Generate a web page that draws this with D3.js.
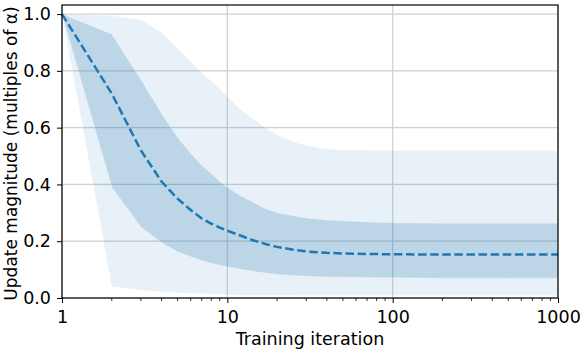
<!DOCTYPE html>
<html>
<head>
<meta charset="utf-8">
<script src="https://d3js.org/d3.v7.min.js"></script>
<style>
  body { margin: 0; background: #fff; }
  text { font-family: "DejaVu Sans", sans-serif; }
</style>
</head>
<body>
<svg id="chart"></svg>
<script>
// training iterations sampled
var iters = [1, 2, 3, 4, 5, 6, 7, 8, 9, 10, 12, 14, 17, 20, 25, 30, 40, 50, 70, 100, 200, 500, 1000];
// median update magnitude
var median = [1.0, 0.72, 0.52, 0.41, 0.35, 0.31, 0.28, 0.262, 0.248, 0.237, 0.22, 0.205, 0.19, 0.18, 0.17, 0.164, 0.159, 0.157, 0.155, 0.154, 0.153, 0.153, 0.153];
// inner band
var innerHi = [1.0, 0.93, 0.77, 0.65, 0.565, 0.51, 0.468, 0.438, 0.41, 0.39, 0.36, 0.34, 0.315, 0.30, 0.29, 0.282, 0.275, 0.272, 0.268, 0.265, 0.263, 0.263, 0.263];
var innerLo = [1.0, 0.39, 0.25, 0.195, 0.163, 0.145, 0.132, 0.122, 0.115, 0.11, 0.101, 0.095, 0.088, 0.083, 0.079, 0.077, 0.074, 0.073, 0.072, 0.071, 0.07, 0.07, 0.07];
// outer band
var outerHi = [1.0, 0.995, 0.98, 0.935, 0.88, 0.835, 0.795, 0.765, 0.735, 0.71, 0.665, 0.635, 0.60, 0.575, 0.55, 0.537, 0.525, 0.522, 0.52, 0.52, 0.52, 0.52, 0.52];
var outerLo = [1.0, 0.04, 0.028, 0.022, 0.018, 0.016, 0.015, 0.014, 0.012, 0.011, 0.010, 0.010, 0.009, 0.009, 0.009, 0.008, 0.008, 0.008, 0.008, 0.008, 0.008, 0.008, 0.008];
// ticks
var xTicks = [1, 10, 100, 1000];
var yTicks = [0.0, 0.2, 0.4, 0.6, 0.8, 1.0];

var width = 582, height = 350;
var mLeft = 62, mRight = 558, mTop = 5, mBottom = 298;
var fontSize = 17.5;
var blue = '#1f77b4';

var svg = d3.select('#chart')
  .attr('width', width)
  .attr('height', height);

var x = d3.scaleLog().domain([1, 1000]).range([mLeft, mRight]);
var y = d3.scaleLinear().domain([0, 1.032]).range([mBottom, mTop]);

// grid
svg.append('g').selectAll('line')
  .data(xTicks)
  .enter().append('line')
  .attr('x1', function(d){ return x(d); })
  .attr('x2', function(d){ return x(d); })
  .attr('y1', mTop)
  .attr('y2', mBottom)
  .attr('stroke', '#cfcfcf')
  .attr('stroke-width', 1.2);
svg.append('g').selectAll('line')
  .data(yTicks)
  .enter().append('line')
  .attr('x1', mLeft)
  .attr('x2', mRight)
  .attr('y1', function(d){ return y(d); })
  .attr('y2', function(d){ return y(d); })
  .attr('stroke', '#cfcfcf')
  .attr('stroke-width', 1.2);

function band(hi, lo) {
  return d3.area()
    .x(function(d, i){ return x(iters[i]); })
    .y0(function(d, i){ return y(lo[i]); })
    .y1(function(d, i){ return y(hi[i]); })(iters);
}

svg.append('path')
  .attr('d', band(outerHi, outerLo))
  .attr('fill', blue)
  .attr('fill-opacity', 0.1)
  .attr('stroke', '#fff')
  .attr('stroke-opacity', 0.5)
  .attr('stroke-width', 0.7);

svg.append('path')
  .attr('d', band(innerHi, innerLo))
  .attr('fill', blue)
  .attr('fill-opacity', 0.22)
  .attr('stroke', '#fff')
  .attr('stroke-opacity', 0.4)
  .attr('stroke-width', 0.7);

// median line
var line = d3.line()
  .x(function(d, i){ return x(iters[i]); })
  .y(function(d){ return y(d); });
svg.append('path')
  .attr('d', line(median))
  .attr('fill', 'none')
  .attr('stroke', blue)
  .attr('stroke-width', 2.5)
  .attr('stroke-dasharray', '8.5,3.6');

// axes
var xAxis = d3.axisBottom(x)
  .tickValues(xTicks)
  .tickFormat(d3.format('d'))
  .tickSize(5)
  .tickPadding(8);
var gx = svg.append('g')
  .attr('transform', 'translate(0,' + mBottom + ')')
  .call(xAxis);
gx.select('.domain').remove();
gx.selectAll('text')
  .attr('font-size', fontSize + 'px')
  .attr('font-family', 'DejaVu Sans')
  .attr('fill', '#000');
gx.selectAll('line').attr('stroke', '#000').attr('stroke-width', 1);

// minor ticks
var minor = [];
[1, 10, 100].forEach(function(p){
  for (var k = 2; k <= 9; k++) minor.push(p * k);
});
svg.append('g').selectAll('line')
  .data(minor)
  .enter().append('line')
  .attr('x1', function(d){ return x(d); })
  .attr('x2', function(d){ return x(d); })
  .attr('y1', mBottom)
  .attr('y2', mBottom + 3)
  .attr('stroke', '#000')
  .attr('stroke-width', 0.8);

var yAxis = d3.axisLeft(y)
  .tickValues(yTicks)
  .tickFormat(d3.format('.1f'))
  .tickSize(5)
  .tickPadding(6);
var gy = svg.append('g')
  .attr('transform', 'translate(' + mLeft + ',0)')
  .call(yAxis);
gy.select('.domain').remove();
gy.selectAll('text')
  .attr('font-size', fontSize + 'px')
  .attr('font-family', 'DejaVu Sans')
  .attr('fill', '#000');
gy.selectAll('line').attr('stroke', '#000').attr('stroke-width', 1);

// frame
svg.append('rect')
  .attr('x', mLeft)
  .attr('y', mTop)
  .attr('width', mRight - mLeft)
  .attr('height', mBottom - mTop)
  .attr('fill', 'none')
  .attr('stroke', '#000')
  .attr('stroke-width', 1.2);

// labels
svg.append('text')
  .attr('x', (mLeft + mRight) / 2)
  .attr('y', 344.5)
  .attr('text-anchor', 'middle')
  .attr('font-size', fontSize + 'px')
  .text('Training iteration');

svg.append('text')
  .attr('transform', 'translate(16.5,153.5) rotate(-90)')
  .attr('text-anchor', 'middle')
  .attr('font-size', '17px')
  .text('Update magnitude (multiples of α)');
</script>
</body>
</html>
